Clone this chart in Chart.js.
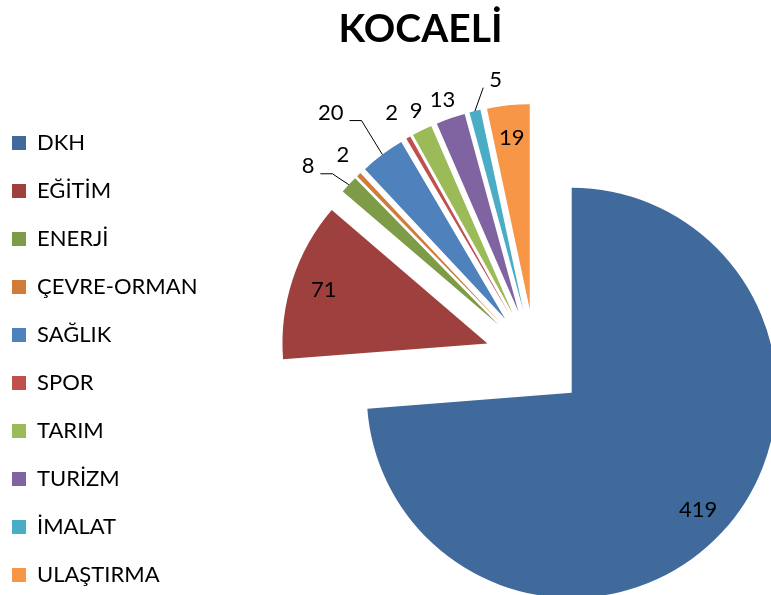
<!DOCTYPE html>
<html>
<head>
<meta charset="utf-8">
<title>KOCAELİ</title>
<script src="https://cdn.jsdelivr.net/npm/chart.js@4.4.1/dist/chart.umd.min.js"></script>
<style>
  html, body { margin: 0; padding: 0; background: #fff; }
  #kutu { width: 771px; height: 595px; }
</style>
</head>
<body>
<div id="kutu"><canvas id="pasta"></canvas></div>
<script>
const sektorler = ['DKH', 'EĞİTİM', 'ENERJİ', 'ÇEVRE-ORMAN', 'SAĞLIK', 'SPOR', 'TARIM', 'TURİZM', 'İMALAT', 'ULAŞTIRMA'];
const projeSayisi = [419, 71, 8, 2, 20, 2, 9, 13, 5, 19];
const renkler = ['#40699C', '#9E413E', '#7E9C48', '#CF7B39', '#4F81BD', '#C0504D', '#9BBB59', '#8064A2', '#4BACC6', '#F79646'];

// label placement like Excel "best fit": inside / outside, extra gap, small turn (deg), leader line
const etiketYeri = ['ic', 'ic', 'dis', 'dis', 'dis', 'dis', 'dis', 'dis', 'dis', 'ic'];
const etiketBosluk = [0, 0, 43, 25, 65, 30, 20, 20, 27, 0];
const etiketKayma = [0, 0, -2.7, 0.4, -2.9, -0.4, 0.7, -0.3, 5.6, 0];
const kilavuz = [null, null, 'dirsek', null, 'dirsek', null, null, null, 'duz', null];

const YAZI = "Lato, 'Open Sans', sans-serif";
const PATLAMA = 50;      // every slice pulled out this many px
const YARICAP = 205;
const LEJANT_GENISLIK = 313;

Chart.defaults.font.family = YAZI;
Chart.defaults.color = '#000';

const dilimler = {
  id: 'dilimler',
  beforeLayout(chart) {
    const lej = chart.legend;
    if (lej && !lej._genis) {
      const fit = lej.fit;
      lej.fit = function () {
        fit.call(this);
        this.width = LEJANT_GENISLIK;
      };
      lej._genis = true;
    }
  },
  afterDatasetsUpdate(chart) {
    chart.getDatasetMeta(0).data.forEach((arc) => {
      const orta = (arc.startAngle + arc.endAngle) / 2;
      arc.x += Math.cos(orta) * PATLAMA;
      arc.y += Math.sin(orta) * PATLAMA;
    });
  },
  afterDatasetsDraw(chart) {
    const ctx = chart.ctx;
    ctx.save();
    ctx.font = '22px ' + YAZI;
    ctx.fillStyle = '#000';
    ctx.strokeStyle = '#000';
    ctx.lineWidth = 1;
    ctx.textAlign = 'center';
    ctx.textBaseline = 'middle';
    chart.getDatasetMeta(0).data.forEach((arc, i) => {
      const orta = (arc.startAngle + arc.endAngle) / 2;
      const r = arc.outerRadius;
      const metin = String(projeSayisi[i]);
      let lx, ly;
      if (etiketYeri[i] === 'ic') {
        lx = arc.x + Math.cos(orta) * r * 0.84;
        ly = arc.y + Math.sin(orta) * r * 0.84;
      } else {
        const mx = arc.x - Math.cos(orta) * PATLAMA;
        const my = arc.y - Math.sin(orta) * PATLAMA;
        const a = orta + etiketKayma[i] * Math.PI / 180;
        const d = PATLAMA + r + etiketBosluk[i];
        lx = mx + Math.cos(a) * d;
        ly = my + Math.sin(a) * d;
      }
      ctx.fillText(metin, lx, ly);

      if (kilavuz[i]) {
        const tw = ctx.measureText(metin).width;
        const kx = arc.x + Math.cos(orta) * r;
        const ky = arc.y + Math.sin(orta) * r;
        ctx.beginPath();
        if (kilavuz[i] === 'dirsek') {
          const sx = lx + tw / 2 + 6;
          ctx.moveTo(sx, ly + 8);
          ctx.lineTo(sx + 12, ly + 8);
        } else {
          ctx.moveTo(lx - tw / 2 - 6, ly + 8);
        }
        ctx.lineTo(kx, ky);
        ctx.stroke();
      }
    });
    ctx.restore();
  }
};

new Chart(document.getElementById('pasta'), {
  type: 'pie',
  data: {
    labels: sektorler,
    datasets: [{
      data: projeSayisi,
      backgroundColor: renkler,
      borderWidth: 0,
      radius: YARICAP,
      clip: false
    }]
  },
  options: {
    responsive: true,
    maintainAspectRatio: false,
    animation: false,
    layout: { padding: { left: -14, right: -84, top: 0, bottom: -123 } },
    plugins: {
      title: {
        display: true,
        text: 'KOCAELİ',
        color: '#000',
        font: { size: 39, weight: 'bold' },
        padding: { top: 6, bottom: 70 }
      },
      legend: {
        position: 'left',
        labels: {
          color: '#000',
          font: { size: 22 },
          boxWidth: 14,
          boxHeight: 14,
          padding: 26
        }
      },
      tooltip: { enabled: false }
    }
  },
  plugins: [dilimler]
});
</script>
</body>
</html>
